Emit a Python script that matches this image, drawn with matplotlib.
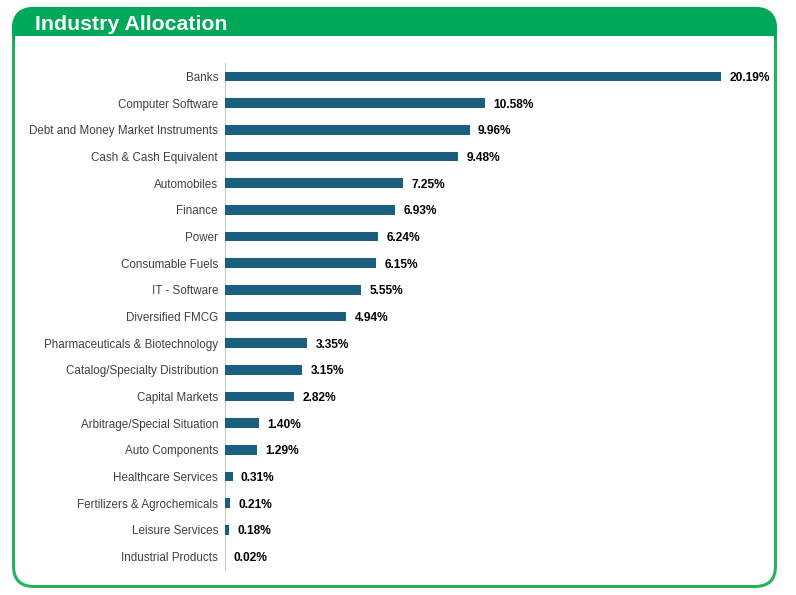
import matplotlib
matplotlib.use("Agg")
import matplotlib.pyplot as plt
from matplotlib.patches import FancyBboxPatch, Rectangle

categories = ["Banks", "Computer Software", "Debt and Money Market Instruments",
              "Cash & Cash Equivalent", "Automobiles", "Finance", "Power",
              "Consumable Fuels", "IT - Software", "Diversified FMCG",
              "Pharmaceuticals & Biotechnology", "Catalog/Specialty Distribution",
              "Capital Markets", "Arbitrage/Special Situation", "Auto Components",
              "Healthcare Services", "Fertilizers & Agrochemicals",
              "Leisure Services", "Industrial Products"]
values = [20.19, 10.58, 9.96, 9.48, 7.25, 6.93, 6.24, 6.15, 5.55, 4.94,
          3.35, 3.15, 2.82, 1.40, 1.29, 0.31, 0.21, 0.18, 0.02]
title = "Industry Allocation"

plt.rcParams['font.family'] = ['Liberation Sans', 'DejaVu Sans']

W, H = 796, 595
fig = plt.figure(figsize=(W / 100, H / 100), dpi=100)
fig.patch.set_facecolor('white')
T = fig.dpi_scale_trans

def box(x0, y0, x1, y1, r, color, z, rounded=True):
    xi, yi = x0 / 100, (H - y1) / 100
    w, h = (x1 - x0) / 100, (y1 - y0) / 100
    if rounded:
        p = FancyBboxPatch((xi, yi), w, h, boxstyle=f"round,pad=0,rounding_size={r/100}",
                           transform=T, facecolor=color, edgecolor='none', zorder=z)
    else:
        p = Rectangle((xi, yi), w, h, transform=T, facecolor=color, edgecolor='none', zorder=z)
    fig.add_artist(p)

border_green = '#22b35b'
header_green = '#00a859'
box(12, 7, 777, 588, 22, border_green, 0)
box(15, 10, 774, 585, 19, 'white', 1)
box(12, 7, 777, 52, 22, header_green, 2)
box(15, 36, 774, 60, 0, 'white', 3, rounded=False)
fig.text(35 / W, 1 - 24 / H, title, color='white', fontsize=15.3, fontweight='bold',
         va='center', ha='left', zorder=5)

left, right = 225, 760
top, bottom = 63, 570
ax = fig.add_axes([left / W, 1 - bottom / H, (right - left) / W, (bottom - top) / H])
ax.set_facecolor('none')
ax.set_zorder(6)
scale = 496 / 20.19
ax.set_xlim(0, (right - left) / scale)
n = len(categories)
y = list(range(n))
ax.barh(y, values, height=0.36, color='#1a5e80', zorder=3)
ax.set_ylim(n - 0.5, -0.5)
ax.set_yticks(y)
ax.set_yticklabels(categories, fontsize=8.35, color='#404040')
ax.tick_params(axis='y', length=0, pad=5)
ax.set_xticks([])
for s in ['top', 'right', 'bottom']:
    ax.spines[s].set_visible(False)
ax.spines['left'].set_color('#c8c8c8')
ax.spines['left'].set_linewidth(0.8)
for yi, v in zip(y, values):
    ax.annotate(f"{v:.2f}%", (v, yi), xytext=(6, 0), textcoords='offset points',
                va='center_baseline', ha='left', fontsize=8.6, fontweight='bold', color='black')

fig.savefig("out.png", dpi=100, facecolor='white')
